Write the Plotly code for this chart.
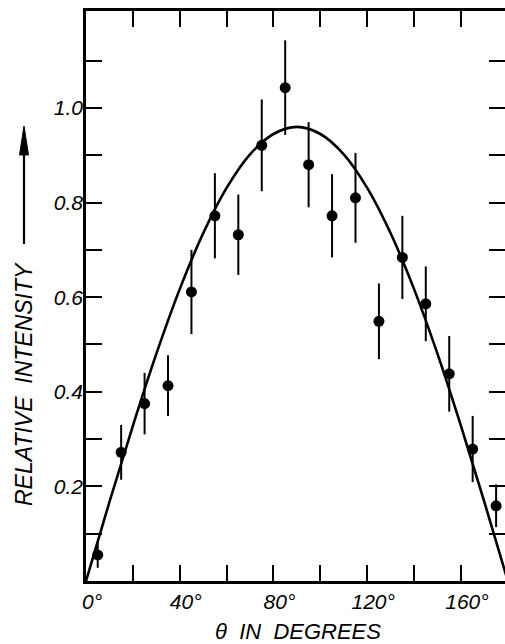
import plotly.graph_objects as go

# Measured data points (theta in degrees, relative intensity, error)
theta = [5, 15, 25, 35, 45, 55, 65, 75, 85, 95, 105, 115, 125, 135, 145, 155, 165, 175]
intensity = [0.055, 0.272, 0.375, 0.413, 0.611, 0.772, 0.732, 0.921, 1.043, 0.880,
             0.772, 0.810, 0.549, 0.684, 0.586, 0.438, 0.279, 0.159]
error = [0.027, 0.058, 0.065, 0.064, 0.089, 0.090, 0.085, 0.097, 0.100, 0.090,
         0.088, 0.095, 0.080, 0.088, 0.079, 0.080, 0.070, 0.045]

# Fitted curve
curve_theta = [0, 10, 20, 30, 40, 50, 60, 70, 80, 90, 100, 110, 120, 130, 140, 150, 160, 170, 180]
curve_val = [0.0, 0.167, 0.328, 0.480, 0.617, 0.735, 0.831, 0.902, 0.945, 0.960,
             0.945, 0.902, 0.831, 0.735, 0.617, 0.480, 0.328, 0.167, 0.0]

x_tickvals = [0, 20, 40, 60, 80, 100, 120, 140, 160]
x_ticktext = ["0°", "", "40°", "", "80°", "", "120°", "", "160°"]
y_tickvals = [0.1, 0.2, 0.3, 0.4, 0.5, 0.6, 0.7, 0.8, 0.9, 1.0, 1.1]
y_ticktext = ["", "0.2", "", "0.4", "", "0.6", "", "0.8", "", "1.0", ""]

FONT = "Liberation Sans"
fig = go.Figure()

fig.add_trace(go.Scatter(
    x=curve_theta, y=curve_val, mode="lines",
    line=dict(color="black", width=2.6, shape="spline", smoothing=1.0),
    hoverinfo="skip", showlegend=False,
))

fig.add_trace(go.Scatter(
    x=theta, y=intensity, mode="markers",
    marker=dict(color="black", size=11),
    error_y=dict(type="data", array=error, visible=True, color="black", thickness=2, width=0),
    cliponaxis=False, showlegend=False,
))

axis_common = dict(
    showgrid=False, zeroline=False, automargin=False,
    showline=True, linecolor="black", linewidth=2.5, mirror="allticks",
    ticks="inside", ticklen=16, tickwidth=2, tickcolor="black",
    tickfont=dict(family=FONT, size=21, color="black", style="italic"),
    tickmode="array",
)

fig.update_xaxes(range=[0, 178.8], tickvals=x_tickvals, ticktext=x_ticktext,
                 ticklabelshift=6, ticklabelstandoff=0, **axis_common)
fig.update_yaxes(range=[0, 1.205], tickvals=y_tickvals, ticktext=y_ticktext,
                 ticklabelstandoff=-4, **axis_common)

# Target plot area on screen: x 86..505, y 11..581
L, R, T, B = 86, 505, 11, 581
W, H = R - L, B - T

def px(xp):
    return (xp - L) / W

def py(yp):
    return (B - yp) / H

# Axis titles
fig.add_annotation(
    x=px(298), y=py(631), xref="paper", yref="paper",
    text="θ  IN  DEGREES", showarrow=False,
    font=dict(family=FONT, size=22, color="black", style="italic"),
    xanchor="center", yanchor="middle",
)
fig.add_annotation(
    x=px(24), y=py(384), xref="paper", yref="paper",
    text="RELATIVE  INTENSITY", showarrow=False, textangle=-90,
    font=dict(family=FONT, size=23, color="black", style="italic"),
    xanchor="center", yanchor="middle",
)

# Arrow next to the y title
fig.add_shape(type="line", xref="paper", yref="paper",
              x0=px(24), x1=px(24), y0=py(244), y1=py(150),
              line=dict(color="black", width=2.2))
fig.add_shape(type="path", xref="paper", yref="paper",
              path=f"M {px(19.5)} {py(155)} L {px(24)} {py(126)} L {px(28.5)} {py(155)} Z",
              fillcolor="black", line=dict(color="black", width=1))

fig.update_layout(
    width=505, height=644,
    margin=dict(l=L, r=505 - R, t=T, b=644 - B),
    paper_bgcolor="white", plot_bgcolor="white",
    showlegend=False,
)

fig.write_html(
    "out.html",
    config={"displayModeBar": False},
    post_script="document.body.style.margin='0';document.body.style.overflow='hidden';",
)
